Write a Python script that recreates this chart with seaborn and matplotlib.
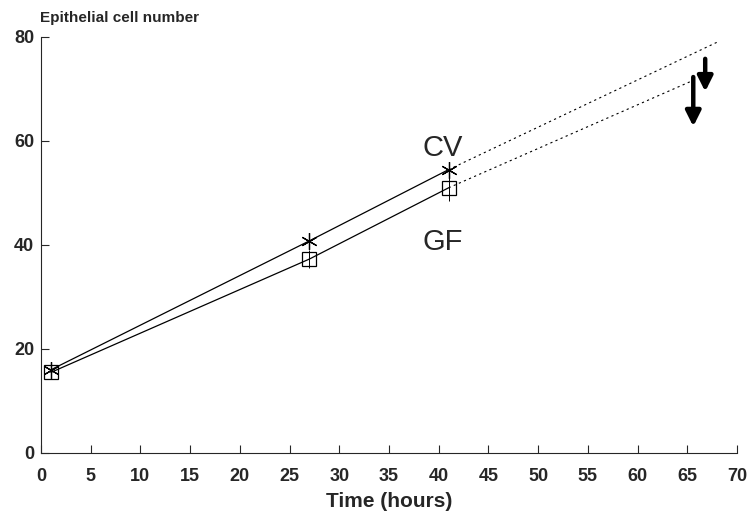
import numpy as np
import pandas as pd
import seaborn as sns
import matplotlib.pyplot as plt

# measured points (hours, cell number)
hours = [1, 27, 41]
cv_cells = [16.0, 40.8, 54.5]
gf_cells = [15.5, 37.3, 51.0]
gf_sd = [0.6, 1.8, 2.6]

# dotted extrapolation out to the arrows
cv_extra_hours = [41, 68]
cv_extra_cells = [54.5, 79.0]
gf_extra_hours = [41, 66]
gf_extra_cells = [51.0, 72.0]

# arrows (x, y top, y bottom)
arrows = [(66.8, 75.8, 69.5), (65.6, 72.3, 62.8)]

sns.set_style("ticks")
plt.rcParams['font.family'] = ['Liberation Sans', 'DejaVu Sans']

fig = plt.figure(figsize=(7.49, 5.18), dpi=100)
ax = fig.add_axes([0.0547, 0.1255, 0.9293, 0.8031])

# CV: asterisk markers
sns.lineplot(x=hours, y=cv_cells, color='black', linewidth=0.9,
             marker=(6, 2, 0), markersize=12, markeredgewidth=0.9,
             markeredgecolor='black', ax=ax)
# GF: open squares
sns.lineplot(x=hours, y=gf_cells, color='black', linewidth=0.9,
             marker='s', markersize=10, markeredgewidth=0.9,
             markerfacecolor='none', markeredgecolor='black', ax=ax)

ax.errorbar(hours, gf_cells, yerr=gf_sd, fmt='none', ecolor='black',
            elinewidth=0.7, capsize=0)

sns.lineplot(x=cv_extra_hours, y=cv_extra_cells, color='black',
             linestyle=(0, (2, 3)), linewidth=0.8, ax=ax)
sns.lineplot(x=gf_extra_hours, y=gf_extra_cells, color='black',
             linestyle=(0, (2, 3)), linewidth=0.8, ax=ax)

for x, y0, y1 in arrows:
    ax.annotate('', xy=(x, y1), xytext=(x, y0),
                arrowprops=dict(arrowstyle='-|>,head_width=0.45,head_length=0.9',
                                color='black', lw=3.2, shrinkA=0, shrinkB=0))

ax.text(40.4, 58.7, 'CV', fontsize=21, ha='center', va='center')
ax.text(40.4, 40.6, 'GF', fontsize=21, ha='center', va='center')

ax.set_xlim(0, 70)
ax.set_ylim(0, 80)
ax.set_xticks(range(0, 71, 5))
ax.set_yticks(range(0, 81, 20))
ax.tick_params(direction='in', length=6, width=0.8, labelsize=13)
ax.tick_params(axis='x', pad=11)
ax.tick_params(axis='y', pad=5)
for lab in ax.get_xticklabels() + ax.get_yticklabels():
    lab.set_fontweight('bold')
sns.despine(ax=ax)
for sp in ['left', 'bottom']:
    ax.spines[sp].set_linewidth(0.8)

ax.set_xlabel('Time (hours)', fontsize=15, fontweight='bold', labelpad=5)
ax.set_ylabel('')
fig.text(0.053, 0.965, 'Epithelial cell number', fontsize=11,
         fontweight='bold', ha='left', va='center')

fig.savefig('out.png', dpi=100)
